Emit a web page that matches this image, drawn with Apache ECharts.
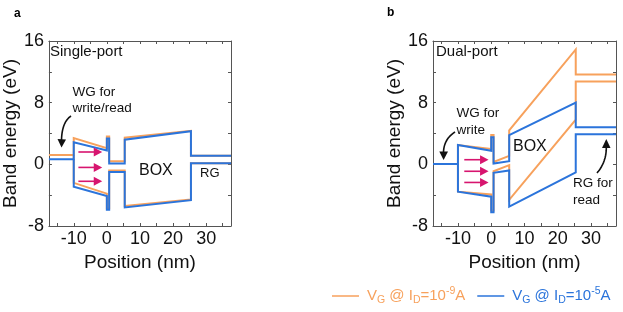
<!DOCTYPE html>
<html><head><meta charset="utf-8">
<script src="https://cdn.jsdelivr.net/npm/echarts@6/dist/echarts.min.js"></script>
<style>html,body{margin:0;padding:0;background:#fff}#c{width:623px;height:312px}</style>
</head><body><div id="c"></div>
<script>
const FONT = '"Liberation Sans", Arial, Helvetica, sans-serif';
const ORANGE = '#F7A15C', BLUE = '#2B74DB', MAGENTA = '#D7156F', AXIS = '#555', TXT = '#111';

// ---- axis ticks / labels ----
const xTicks = [-15, -10, -5, 0, 5, 10, 15, 20, 25, 30, 35];
const xLabels = [-10, 0, 10, 20, 30];
const yTicks = [-8, -4, 0, 4, 8, 12, 16];
const yLabels = [-8, 0, 8, 16];

// ---- band lines [position nm, energy eV] ----
// panel a (single-port)
const aLoUpper = [[-17.5,1.2],[-10,1.2],[-10,3.4],[0,2.1],[0,3.6],[0.7,3.6],[0.7,0.4],[5.4,0.4],[5.4,3.45],[25.4,4.35],[25.4,1.1],[37.5,1.1]];
const aLoLower = [[-10,1.2],[-10,-2.4],[0,-3.8],[0,-5.7],[0.7,-5.7],[0.7,-0.8],[5.4,-0.8],[5.4,-5.4],[25.4,-4.55],[25.4,0.15],[37.5,0.15]];
const aHiUpper = [[-17.5,0.65],[-10,0.65],[-10,2.85],[0,1.8],[0,3.35],[0.7,3.35],[0.7,0.1],[5.4,0.1],[5.4,3.2],[25.4,4.3],[25.4,1.1],[37.5,1.1]];
const aHiLower = [[-10,0.65],[-10,-2.9],[0,-4.1],[0,-5.9],[0.7,-5.9],[0.7,-1.0],[5.4,-1.0],[5.4,-5.6],[25.4,-4.65],[25.4,0.15],[37.5,0.15]];
// panel b (dual-port)
const bLoUpper = [[-17.5,0.05],[-10,0.05],[-10,2.5],[0,2.0],[0,3.8],[0.7,3.8],[0.7,0.3],[5.4,1.1],[5.4,4.4],[25.4,14.9],[25.4,11.65],[37.5,11.65]];
const bLoLower = [[-10,0.05],[-10,-3.55],[0,-3.9],[0,-6.0],[0.7,-6.0],[0.7,-0.9],[5.4,-0.1],[5.4,-4.6],[25.4,5.8],[25.4,10.75],[37.5,10.75]];
const bHiUpper = [[-17.5,0.05],[-10,0.05],[-10,2.5],[0,1.75],[0,3.5],[0.7,3.5],[0.7,0.1],[5.4,0.4],[5.4,3.8],[25.4,8.0],[25.4,4.8],[37.5,4.8]];
const bHiLower = [[-10,0.05],[-10,-3.55],[0,-4.2],[0,-6.2],[0.7,-6.2],[0.7,-1.1],[5.4,-0.8],[5.4,-5.5],[25.4,-1.05],[25.4,3.9],[37.5,3.9]];

// electron-flow arrows: [x start, x tip] and y levels
const arrowXA = [-8.6, -1.4], arrowYA = [1.6, -0.4, -2.2];
const arrowXB = [-8.1, -0.8], arrowYB = [0.6, -0.9, -2.35];

const LO = 'lo', HI = 'hi';

const chart = echarts.init(document.getElementById('c'), null, {renderer: 'canvas'});

function xAx(g, top) {
  return {
    type: 'value', gridIndex: g, min: -17.5, max: 37.5, position: top ? 'top' : 'bottom',
    axisLine: {show: true, onZero: false, lineStyle: {color: AXIS, width: 1}},
    axisTick: {show: true, inside: true, length: 3, customValues: xTicks, lineStyle: {color: AXIS}},
    axisLabel: top ? {show: false} : {show: true, customValues: xLabels, fontSize: 18, color: TXT, margin: 4, fontFamily: FONT},
    splitLine: {show: false},
    name: top ? '' : 'Position (nm)', nameLocation: 'middle', nameGap: 21,
    nameTextStyle: {fontSize: 19, color: TXT, fontFamily: FONT}
  };
}
function yAx(g, right) {
  return {
    type: 'value', gridIndex: g, min: -8, max: 16, interval: 8, position: right ? 'right' : 'left',
    axisLine: {show: true, onZero: false, lineStyle: {color: AXIS, width: 1}},
    axisTick: {show: true, inside: true, length: 3, customValues: yTicks, lineStyle: {color: AXIS}},
    axisLabel: right ? {show: false} : {show: true, customValues: yLabels, fontSize: 18, color: TXT, margin: 5, fontFamily: FONT},
    splitLine: {show: false},
    name: right ? '' : 'Band energy (eV)', nameLocation: 'middle', nameGap: 28, nameRotate: 90,
    nameTextStyle: {fontSize: 19, color: TXT, fontFamily: FONT}
  };
}
function band(name, data, color, g) {
  return {
    type: 'line', name, data, xAxisIndex: g * 2, yAxisIndex: g * 2,
    symbol: 'none', showSymbol: false, silent: true, animation: false,
    lineStyle: {color, width: 2, join: 'miter'}, itemStyle: {color}
  };
}

const rich = {
  o0: {fontSize: 15, color: ORANGE, fontFamily: FONT, lineHeight: 20, padding: [0, 0, 0, 3]},
  o: {fontSize: 15, color: ORANGE, fontFamily: FONT, lineHeight: 20},
  os: {fontSize: 10.5, color: ORANGE, fontFamily: FONT, verticalAlign: 'bottom'},
  op: {fontSize: 10.5, color: ORANGE, fontFamily: FONT, verticalAlign: 'top'},
  b0: {fontSize: 15, color: BLUE, fontFamily: FONT, lineHeight: 20, padding: [0, 0, 0, 3]},
  b: {fontSize: 15, color: BLUE, fontFamily: FONT, lineHeight: 20},
  bs: {fontSize: 10.5, color: BLUE, fontFamily: FONT, verticalAlign: 'bottom'},
  bp: {fontSize: 10.5, color: BLUE, fontFamily: FONT, verticalAlign: 'top'}
};

chart.setOption({
  animation: false,
  backgroundColor: '#fff',
  grid: [
    {left: 48, top: 41, width: 183, height: 185},
    {left: 433, top: 41, width: 183, height: 185}
  ],
  xAxis: [xAx(0, false), xAx(0, true), xAx(1, false), xAx(1, true)],
  yAxis: [yAx(0, false), yAx(0, true), yAx(1, false), yAx(1, true)],
  legend: {
    left: 327, top: 281, itemWidth: 27, itemHeight: 1.5, itemGap: 12, icon: 'rect',
    selectedMode: false,
    data: [{name: LO}, {name: HI}],
    textStyle: {rich},
    formatter: n => n === LO
      ? '{o0|V}{os|G}{o| @ I}{os|D}{o|=10}{op|-9}{o|A}'
      : '{b0|V}{bs|G}{b| @ I}{bs|D}{b|=10}{bp|-5}{b|A}'
  },
  series: [
    band(LO, aLoUpper, ORANGE, 0), band(LO, aLoLower, ORANGE, 0),
    band(LO, bLoUpper, ORANGE, 1), band(LO, bLoLower, ORANGE, 1),
    band(HI, aHiUpper, BLUE, 0), band(HI, aHiLower, BLUE, 0),
    band(HI, bHiUpper, BLUE, 1), band(HI, bHiLower, BLUE, 1)
  ]
});

function txt(text, x, y, size, opts) {
  return Object.assign({
    type: 'text', x, y, silent: true, z: 100,
    style: {text, fontSize: size, fontFamily: FONT, fill: TXT, align: 'left', verticalAlign: 'middle'}
  }, opts || {});
}
function curvedArrow(p0, cp, p1, head) {
  const pts = [];
  for (let i = 0; i <= 16; i++) {
    const t = i / 16, u = 1 - t;
    pts.push([u * u * p0[0] + 2 * u * t * cp[0] + t * t * p1[0], u * u * p0[1] + 2 * u * t * cp[1] + t * t * p1[1]]);
  }
  return [
    {type: 'polyline', silent: true, z: 100, shape: {points: pts},
     style: {stroke: '#111', lineWidth: 1.6, fill: null}},
    {type: 'polygon', silent: true, z: 100, shape: {points: head}, style: {fill: '#111'}}
  ];
}
function flowArrows(xs, ys, g) {
  const out = [];
  ys.forEach(y => {
    const p0 = chart.convertToPixel({xAxisIndex: g * 2, yAxisIndex: g * 2}, [xs[0], y]);
    const p1 = chart.convertToPixel({xAxisIndex: g * 2, yAxisIndex: g * 2}, [xs[1], y]);
    out.push({type: 'line', silent: true, z: 100, shape: {x1: p0[0], y1: p0[1], x2: p1[0] - 7, y2: p1[1]},
              style: {stroke: MAGENTA, lineWidth: 1.6}});
    out.push({type: 'polygon', silent: true, z: 100,
              shape: {points: [[p1[0], p1[1]], [p1[0] - 8.5, p1[1] - 4.5], [p1[0] - 8.5, p1[1] + 4.5]]},
              style: {fill: MAGENTA}});
  });
  return out;
}

const boldStyle = t => ({text: t, fontSize: 12, fontWeight: 'bold', fontFamily: FONT, fill: '#000', align: 'left', verticalAlign: 'middle'});
const graphics = [
  txt('a', 14, 14, 12, {style: boldStyle('a')}),
  txt('b', 387, 13, 12, {style: boldStyle('b')}),
  txt('Single-port', 50, 52, 15),
  txt('Dual-port', 436, 52, 15),
  txt('WG for', 72.5, 92, 13.5),
  txt('write/read', 72.5, 108, 13.5),
  txt('WG for', 456.5, 113, 13.5),
  txt('write', 456.5, 130, 13.5),
  txt('BOX', 139, 171, 16),
  txt('BOX', 513, 147, 16),
  txt('RG', 200, 173, 13),
  txt('RG for', 573, 183, 13.5),
  txt('read', 573, 200, 13.5),
  ...curvedArrow([71, 116], [62, 122], [61.5, 140], [[57.5, 139], [66, 139.5], [61.5, 147.5]]),
  ...curvedArrow([455, 132], [444, 139], [443.5, 152], [[439.3, 151.5], [448, 151.5], [443.6, 160]]),
  ...curvedArrow([597, 173], [606.5, 162], [606.3, 147], [[602, 148], [610.5, 148], [606.3, 139]]),
  ...flowArrows(arrowXA, arrowYA, 0),
  ...flowArrows(arrowXB, arrowYB, 1)
];
chart.setOption({graphic: graphics});
</script></body></html>
